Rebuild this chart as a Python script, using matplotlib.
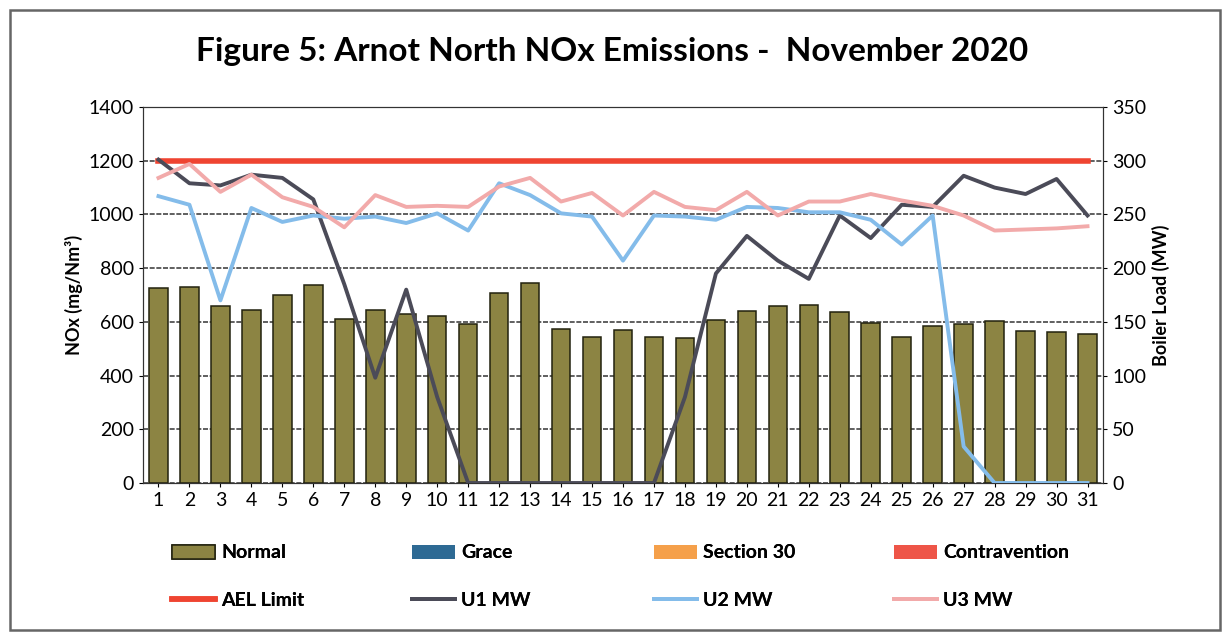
import matplotlib
matplotlib.use("Agg")
import matplotlib.pyplot as plt
import numpy as np
from matplotlib.patches import Rectangle

days = list(range(1, 32))
normal = [725, 731, 660, 643, 700, 736, 611, 644, 628, 622, 592, 706, 746, 573, 543,
          570, 543, 539, 608, 640, 660, 663, 635, 597, 543, 586, 592, 603, 566, 561, 553]
grace = [0] * 31
section30 = [0] * 31
contravention = [0] * 31
ael_limit = [1200] * 31
u1_mw = [301, 279, 277, 287, 284, 264, 185, 98, 180, 80, 0, 0, 0, 0, 0,
         0, 0, 80, 195, 230, 207, 190, 249, 228, 259, 257, 286, 275, 269, 283, 249]
u2_mw = [267, 259, 170, 256, 243, 249, 246, 248, 242, 251, 235, 279, 268, 251, 248,
         207, 249, 248, 245, 257, 256, 252, 252, 245, 222, 249, 34, 0, 0, 0, 0]
u3_mw = [284, 297, 271, 287, 266, 257, 238, 268, 257, 258, 257, 276, 284, 262, 270,
         249, 271, 257, 254, 271, 249, 262, 262, 269, 263, 258, 249, 235, 236, 237, 239]

plt.rcParams['font.family'] = ['Lato', 'DejaVu Sans']

W, H = 1224, 633
fig = plt.figure(figsize=(W / 100, H / 100), dpi=100)
fig.patches.append(Rectangle((10 / W, 3 / H), 1210 / W, 620 / H, transform=fig.transFigure,
                             fill=False, edgecolor='#666666', linewidth=1.8))
ax = fig.add_axes([143 / W, 1 - 483 / H, 960 / W, 376 / H])
ax2 = ax.twinx()

x = np.array(days)
b_normal = ax.bar(x, normal, width=0.6, color='#8c8443', edgecolor='#22220e', linewidth=1.1,
                  label='Normal', zorder=2)
b_grace = ax.bar(x, grace, width=0.6, color='#2e6a94', linewidth=0, label='Grace', zorder=2)
b_s30 = ax.bar(x, section30, width=0.6, color='#f5a04a', linewidth=0, label='Section 30', zorder=2)
b_con = ax.bar(x, contravention, width=0.6, color='#ee5548', linewidth=0, label='Contravention', zorder=2)
l_ael, = ax.plot(x, ael_limit, color='#ef4431', linewidth=4, label='AEL Limit', zorder=3)

ax.set_xlim(0.5, 31.5)
ax.set_ylim(0, 1400)
ax.set_yticks(range(0, 1401, 200))
ax.set_xticks(days)
ax.grid(axis='y', color='#444444', linestyle=(0, (3, 1)), linewidth=1.2, zorder=0)
ax.set_axisbelow(True)
ax.tick_params(axis='both', labelsize=14, length=3)
ax.set_ylabel('NOx (mg/Nm³)', fontsize=13, fontweight='bold')

l_u1, = ax2.plot(x, u1_mw, color='#4b4b58', linewidth=2.8, label='U1 MW', zorder=4)
l_u2, = ax2.plot(x, u2_mw, color='#84bcea', linewidth=2.8, label='U2 MW', zorder=4)
l_u3, = ax2.plot(x, u3_mw, color='#f2aaaa', linewidth=2.8, label='U3 MW', zorder=4)
ax2.set_ylim(0, 350)
ax2.set_yticks(range(0, 351, 50))
ax2.tick_params(axis='y', labelsize=14, length=3)
ax2.set_ylabel('Boiler Load (MW)', fontsize=13, fontweight='bold')

for a in (ax, ax2):
    for s in a.spines.values():
        s.set_color('#333333')

fig.text(0.5, 1 - 52 / H, 'Figure 5: Arnot North NOx Emissions -  November 2020', fontsize=24,
         fontweight='bold', ha='center', va='center')

entries = [(b_normal, 162, 553), (b_grace, 402, 553), (b_s30, 644, 553), (b_con, 884, 553),
           (l_ael, 162, 600), (l_u1, 402, 600), (l_u2, 644, 600), (l_u3, 884, 600)]
for h, px, py in entries:
    lg = fig.legend([h], [h.get_label()], loc='center left',
                    bbox_to_anchor=(px / W, 1 - py / H), frameon=False, borderpad=0,
                    handlelength=2.2, handletextpad=0.35,
                    prop={'weight': 'bold', 'size': 14})
    fig.add_artist(lg)

fig.savefig('out.png', dpi=100)
